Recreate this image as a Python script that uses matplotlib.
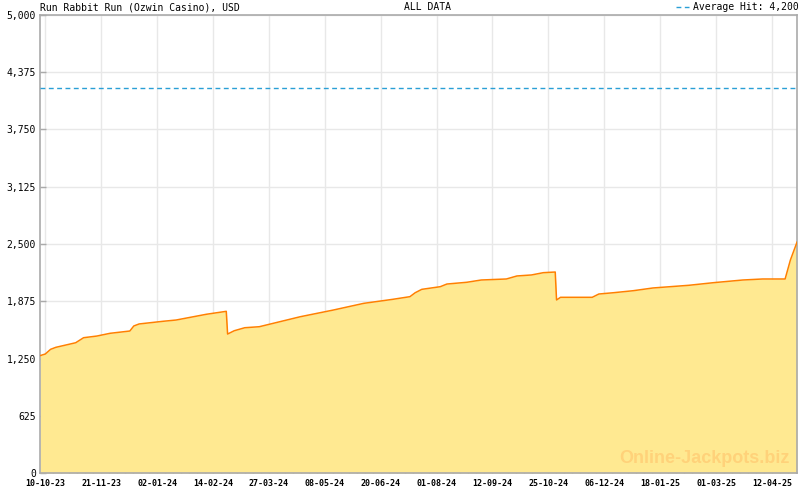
import matplotlib
matplotlib.use("Agg")
import matplotlib.pyplot as plt
import matplotlib.dates as mdates
from matplotlib.lines import Line2D
import numpy as np
import pandas as pd

# ---- data ----
dates = ["2023-10-06", "2023-10-10", "2023-10-14", "2023-10-18", "2023-11-02",
         "2023-11-08", "2023-11-18", "2023-11-28", "2023-12-13", "2023-12-16",
         "2023-12-20", "2024-01-07", "2024-01-17", "2024-02-09", "2024-02-24",
         "2024-02-25", "2024-03-01", "2024-03-09", "2024-03-20", "2024-04-20",
         "2024-05-15", "2024-06-07", "2024-06-29", "2024-07-12", "2024-07-16",
         "2024-07-21", "2024-08-04", "2024-08-09", "2024-08-24", "2024-09-04",
         "2024-09-23", "2024-10-01", "2024-10-12", "2024-10-21", "2024-10-30",
         "2024-10-31", "2024-11-03", "2024-11-27", "2024-12-02", "2024-12-13",
         "2024-12-28", "2025-01-12", "2025-02-08", "2025-02-27", "2025-03-21",
         "2025-04-05", "2025-04-22", "2025-04-26", "2025-05-01"]
values = [1281, 1299, 1350, 1372, 1422,
          1477, 1495, 1525, 1550, 1605,
          1627, 1656, 1670, 1733, 1765,
          1517, 1553, 1586, 1597, 1706,
          1779, 1852, 1896, 1925, 1968,
          2005, 2034, 2063, 2082, 2107,
          2118, 2151, 2162, 2187, 2194,
          1889, 1918, 1918, 1954, 1968,
          1990, 2020, 2049, 2078, 2107,
          2118, 2118, 2325, 2520]
average_hit = 4200
y_ticks = [0, 625, 1250, 1875, 2500, 3125, 3750, 4375, 5000]
x_tick_labels = ["10-10-23", "21-11-23", "02-01-24", "14-02-24", "27-03-24",
                 "08-05-24", "20-06-24", "01-08-24", "12-09-24", "25-10-24",
                 "06-12-24", "18-01-25", "01-03-25", "12-04-25"]
title = "Run Rabbit Run (Ozwin Casino), USD"
subtitle = "ALL DATA"
legend_label = "Average Hit: 4,200"
watermark = "Online-Jackpots.biz"

# ---- figure ----
W, H = 800, 490
fig = plt.figure(figsize=(8, 4.9), dpi=100)
ax = fig.add_axes([40 / W, 1 - 473 / H, 757 / W, 458 / H])

x = mdates.date2num(pd.to_datetime(dates).to_pydatetime())
ax.fill_between(x, values, 0, color="#FFE991", lw=0, zorder=1)
ax.plot(x, values, color="#FF8000", lw=1.1, zorder=3)
ax.axhline(average_hit, color="#2A9FD6", lw=1, dashes=(3.5, 2.5), zorder=4)

ax.set_xlim(x[0], x[-1])
ax.set_ylim(0, 5000)

# ticks
start = mdates.date2num(pd.Timestamp("2023-10-10").to_pydatetime())
step = 550 / 13
major = [start + k * step for k in range(len(x_tick_labels))]
ax.set_xticks(major)
ax.set_xticklabels(x_tick_labels)
minor = np.arange(start - step, x[-1] + 1, step / 7)
minor = minor[(minor >= x[0]) & (minor <= x[-1])]
ax.set_xticks(minor, minor=True)

ax.set_yticks(y_ticks)
ax.set_yticklabels([f"{v:,}" for v in y_ticks])

mono = "DejaVu Sans Mono"
ax.tick_params(axis="y", direction="in", length=4, width=1, color="#AAAAAA",
               labelsize=7, pad=3)
ax.tick_params(axis="x", which="major", direction="in", length=5, width=1,
               color="#AAAAAA", labelsize=6, pad=4)
ax.tick_params(axis="x", which="minor", direction="in", length=3, width=1,
               color="#AAAAAA")
for lab in ax.get_yticklabels():
    lab.set_family(mono)
for lab in ax.get_xticklabels():
    lab.set_family(mono)
    lab.set_fontweight("bold")

ax.grid(True, which="major", color="#E8E8E8", lw=1, zorder=0)
ax.set_axisbelow(True)
for s in ax.spines.values():
    s.set_color("#AAAAAA")
    s.set_linewidth(1.2)

# texts
fig.text(40 / W, 1 - 7 / H, title, family=mono, fontsize=7, ha="left", va="center")
fig.text(428 / W, 1 - 7 / H, subtitle, family=mono, fontsize=7, ha="center", va="center")
fig.text(799 / W, 1 - 7 / H, legend_label, family=mono, fontsize=7, ha="right", va="center")
fig.add_artist(Line2D([676 / W, 689 / W], [1 - 7 / H, 1 - 7 / H], color="#2A9FD6",
                      lw=1, dashes=(3.5, 2.5), transform=fig.transFigure))
fig.text(790 / W, 1 - 458 / H, watermark, family="Liberation Sans", fontweight="bold",
         fontsize=13, color="#FFD27A", ha="right", va="center", zorder=5)

fig.savefig("out.png", dpi=100, facecolor="white")
